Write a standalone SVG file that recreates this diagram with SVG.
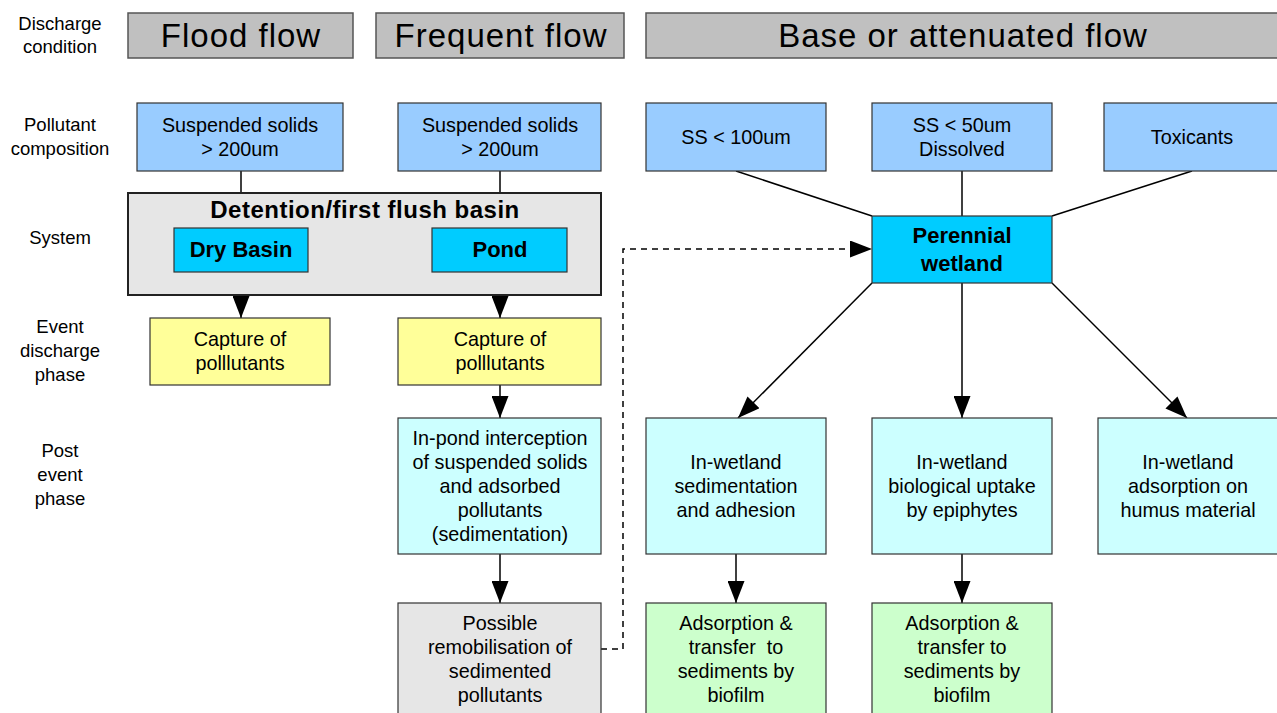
<svg xmlns="http://www.w3.org/2000/svg" width="1277" height="713" viewBox="0 0 1277 713">
<defs>
<style>
text{font-family:"Liberation Sans",Arial,sans-serif;fill:#000;text-anchor:middle}
.lbl{font-size:18.5px}
.hdr{font-size:33px;letter-spacing:1px}
.t{font-size:19.8px}
.b{font-size:22px;font-weight:bold}
.bt{font-size:24px;font-weight:bold;letter-spacing:0.5px}
.box{stroke:#333;stroke-width:1.2}
.hd{fill:#c0c0c0;stroke:#555;stroke-width:1.5}
.blue{fill:#99ccff}
.cyan{fill:#00ccff}
.yel{fill:#ffff99}
.lc{fill:#ccffff}
.gr{fill:#ccffcc}
.gy{fill:#e6e6e6}
.ln{stroke:#000;stroke-width:1.5;fill:none}
</style>
<marker id="a2" viewBox="0 0 22 17" refX="22" refY="8.5" markerWidth="22" markerHeight="17" markerUnits="userSpaceOnUse" orient="auto">
<path d="M0,0 L22,8.5 L0,17 z" fill="#000"/>
</marker>
</defs>
<rect width="1277" height="713" fill="#fff"/>
<g id="row-labels">
<text class="lbl" x="60" y="30">Discharge</text>
<text class="lbl" x="60" y="53">condition</text>
<text class="lbl" x="60" y="131">Pollutant</text>
<text class="lbl" x="60" y="155">composition</text>
<text class="lbl" x="60" y="244">System</text>
<text class="lbl" x="60" y="333">Event</text>
<text class="lbl" x="60" y="357">discharge</text>
<text class="lbl" x="60" y="381">phase</text>
<text class="lbl" x="60" y="457">Post</text>
<text class="lbl" x="60" y="481">event</text>
<text class="lbl" x="60" y="505">phase</text>
</g>
<g id="hdr-flood"><rect class="hd" x="128" y="13" width="225" height="45"/><text class="hdr" x="241" y="47">Flood flow</text></g>
<g id="hdr-frequent"><rect class="hd" x="376" y="13" width="248" height="45"/><text class="hdr" x="501" y="47">Frequent flow</text></g>
<g id="hdr-base"><rect class="hd" x="646" y="13" width="640" height="45"/><text class="hdr" x="963" y="47">Base or attenuated flow</text></g>

<g id="connectors">
<line class="ln" x1="241" y1="171" x2="241" y2="193"/>
<line class="ln" x1="500" y1="171" x2="500" y2="193"/>
<line class="ln" x1="241" y1="272" x2="241" y2="318" marker-end="url(#a2)"/>
<line class="ln" x1="500" y1="272" x2="500" y2="318" marker-end="url(#a2)"/>
<line class="ln" x1="500" y1="385" x2="500" y2="418" marker-end="url(#a2)"/>
<line class="ln" x1="500" y1="554" x2="500" y2="603" marker-end="url(#a2)"/>
<polyline class="ln" points="601,649 623,649 623,249 872,249" stroke-dasharray="6,5" marker-end="url(#a2)"/>
<line class="ln" x1="736" y1="171" x2="872" y2="216"/>
<line class="ln" x1="962" y1="171" x2="962" y2="216"/>
<line class="ln" x1="1192" y1="171" x2="1052" y2="216"/>
<line class="ln" x1="872" y1="283" x2="738" y2="418" marker-end="url(#a2)"/>
<line class="ln" x1="962" y1="283" x2="962" y2="418" marker-end="url(#a2)"/>
<line class="ln" x1="1052" y1="283" x2="1187" y2="418" marker-end="url(#a2)"/>
<line class="ln" x1="736" y1="554" x2="736" y2="603" marker-end="url(#a2)"/>
<line class="ln" x1="962" y1="554" x2="962" y2="603" marker-end="url(#a2)"/>
</g>

<g id="ss-flood"><rect class="box blue" x="137" y="103" width="206" height="68"/><text class="t" x="240" y="132">Suspended solids</text><text class="t" x="240" y="156">&gt; 200um</text></g>
<g id="ss-frequent"><rect class="box blue" x="398" y="103" width="203" height="68"/><text class="t" x="500" y="132">Suspended solids</text><text class="t" x="500" y="156">&gt; 200um</text></g>
<g id="ss100"><rect class="box blue" x="646" y="103" width="180" height="68"/><text class="t" x="736" y="144">SS &lt; 100um</text></g>
<g id="ss50"><rect class="box blue" x="872" y="103" width="180" height="68"/><text class="t" x="962" y="132">SS &lt; 50um</text><text class="t" x="962" y="156">Dissolved</text></g>
<g id="toxicants"><rect class="box blue" x="1104" y="103" width="180" height="68"/><text class="t" x="1192" y="144">Toxicants</text></g>

<g id="detention"><rect x="128" y="193" width="473" height="102" fill="#e6e6e6" stroke="#222" stroke-width="2"/><text class="bt" x="365" y="218">Detention/first flush basin</text></g>
<g id="dry-basin"><rect class="box cyan" x="174" y="228" width="134" height="44"/><text class="b" x="241" y="257">Dry Basin</text></g>
<g id="pond"><rect class="box cyan" x="432" y="228" width="135" height="44"/><text class="b" x="500" y="257">Pond</text></g>
<g id="wetland"><rect class="box cyan" x="872" y="216" width="180" height="67"/><text class="b" x="962" y="243">Perennial</text><text class="b" x="962" y="271">wetland</text></g>

<g id="capture-1"><rect class="box yel" x="150" y="318" width="180" height="67"/><text class="t" x="240" y="346">Capture of</text><text class="t" x="240" y="370">polllutants</text></g>
<g id="capture-2"><rect class="box yel" x="398" y="318" width="203" height="67"/><text class="t" x="500" y="346">Capture of</text><text class="t" x="500" y="370">polllutants</text></g>

<g id="in-pond"><rect class="box lc" x="398" y="418" width="203" height="136"/>
<text class="t" x="500" y="445">In-pond interception</text><text class="t" x="500" y="469">of suspended solids</text><text class="t" x="500" y="493">and adsorbed</text><text class="t" x="500" y="517">pollutants</text><text class="t" x="500" y="541">(sedimentation)</text></g>
<g id="wet-sed"><rect class="box lc" x="646" y="418" width="180" height="136"/>
<text class="t" x="736" y="469">In-wetland</text><text class="t" x="736" y="493">sedimentation</text><text class="t" x="736" y="517">and adhesion</text></g>
<g id="wet-bio"><rect class="box lc" x="872" y="418" width="180" height="136"/>
<text class="t" x="962" y="469">In-wetland</text><text class="t" x="962" y="493">biological uptake</text><text class="t" x="962" y="517">by epiphytes</text></g>
<g id="wet-ads"><rect class="box lc" x="1098" y="418" width="190" height="136"/>
<text class="t" x="1188" y="469">In-wetland</text><text class="t" x="1188" y="493">adsorption on</text><text class="t" x="1188" y="517">humus material</text></g>

<g id="remob"><rect class="box gy" x="398" y="603" width="203" height="120"/>
<text class="t" x="500" y="630">Possible</text><text class="t" x="500" y="654">remobilisation of</text><text class="t" x="500" y="678">sedimented</text><text class="t" x="500" y="702">pollutants</text></g>
<g id="biofilm-1"><rect class="box gr" x="646" y="603" width="180" height="120"/>
<text class="t" x="736" y="630">Adsorption &amp;</text><text class="t" x="736" y="654" xml:space="preserve">transfer  to</text><text class="t" x="736" y="678">sediments by</text><text class="t" x="736" y="702">biofilm</text></g>
<g id="biofilm-2"><rect class="box gr" x="872" y="603" width="180" height="120"/>
<text class="t" x="962" y="630">Adsorption &amp;</text><text class="t" x="962" y="654">transfer to</text><text class="t" x="962" y="678">sediments by</text><text class="t" x="962" y="702">biofilm</text></g>
</svg>
